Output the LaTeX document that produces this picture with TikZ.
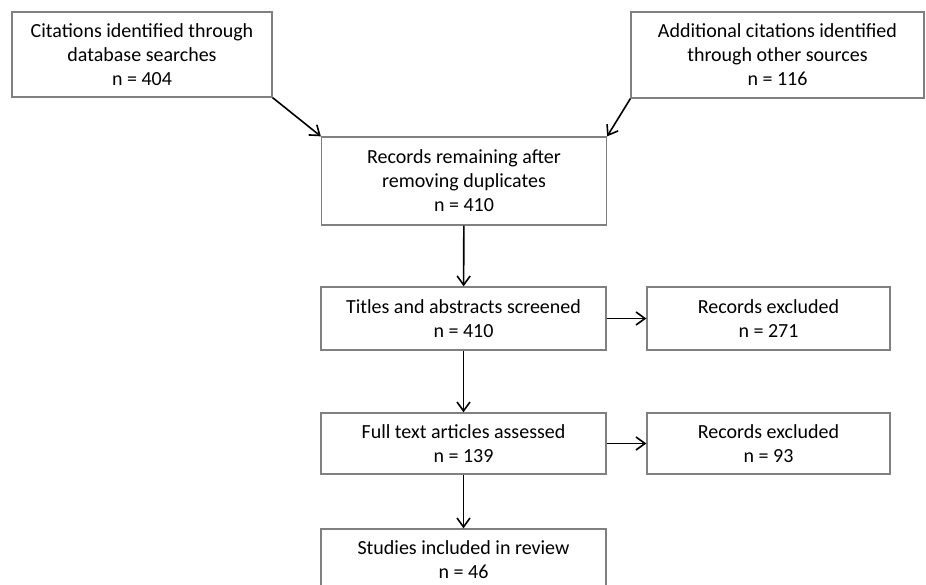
\documentclass[tikz,border=0pt]{standalone}
\usepackage{fontspec}
\setmainfont{Carlito}
\usetikzlibrary{arrows.meta}

\begin{document}
\begin{tikzpicture}[x=1pt,y=-1pt,
        >={Straight Barb[length=9pt,width=13pt]},
        box/.style={draw=black!50,line width=1.3pt,align=center,inner sep=0pt,
            font=\fontsize{20}{24}\selectfont},
        wide/.style={box,minimum width=285pt},
        side/.style={box,minimum width=243pt,minimum height=63pt}]
        \clip (0,0) rectangle (926,585);
        \node[box,minimum width=260pt,minimum height=85pt] (dbase) at (142,54.5) {Citations identified through\\database searches\\n = 404};
        \node[box,minimum width=293pt,minimum height=86pt] (other) at (777.5,55) {Additional citations identified\\through other sources\\n = 116};
        \node[wide,minimum height=88pt] (dedup) at (464,181) {Records remaining after\\removing duplicates\\n = 410};
        \node[wide,minimum height=63pt] (screen) at (463.5,318.5) {Titles and abstracts screened\\n = 410};
        \node[side] (excla) at (768.5,318.5) {Records excluded\\n = 271};
        \node[wide,minimum height=61pt] (full) at (463.5,443.5) {Full text articles assessed\\n = 139};
        \node[side,minimum height=61pt] (exclb) at (768.5,443.5) {Records excluded\\n = 93};
        \node[wide,minimum height=61pt] (incl) at (463.5,559.5) {Studies included in review\\n = 46};
        \draw[->,line width=1.6pt] (dbase.south east) -- (dedup.north west);
        \draw[->,line width=1.6pt] (other.south west) -- (dedup.north east);
        \draw[->,line width=1.6pt] (dedup) -- (screen);
        \draw[->,line width=1.6pt] (screen) -- (excla);
        \draw[->,line width=1.6pt] (screen) -- (full);
        \draw[->,line width=1.6pt] (full) -- (exclb);
        \draw[->,line width=1.6pt] (full) -- (incl);
\end{tikzpicture}
\end{document}
